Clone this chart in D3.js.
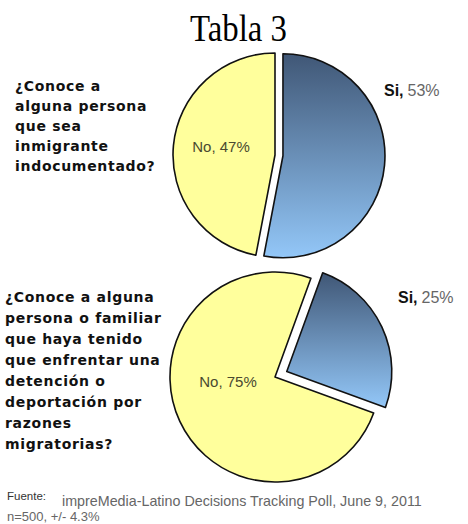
<!DOCTYPE html>
<html>
<head>
<meta charset="utf-8">
<script src="https://cdn.jsdelivr.net/npm/d3@7"></script>
<style>
  body { margin: 0; background: #fff; }
  svg { display: block; }
</style>
</head>
<body>
<script>
// chart values
var answers = ['Si', 'No']
var share1 = [53, 47]
var share2 = [25, 75]
var question1 = ['¿Conoce a', 'alguna persona', 'que sea', 'inmigrante', 'indocumentado?']
var question2 = ['¿Conoce a alguna', 'persona o familiar', 'que haya tenido', 'que enfrentar una',
                 'detención o', 'deportación por', 'razones', 'migratorias?']
var source = 'impreMedia-Latino Decisions Tracking Poll, June 9, 2011'
var sample = 'n=500, +/- 4.3%'

var width = 468, height = 524
var deg = Math.PI / 180

var svg = d3.select('body').append('svg')
  .attr('width', width)
  .attr('height', height)

var grad = svg.append('defs').append('linearGradient')
  .attr('id', 'blue')
  .attr('x1', 0).attr('y1', 0).attr('x2', 0).attr('y2', 1)
grad.append('stop').attr('offset', '0%').attr('stop-color', '#405776')
grad.append('stop').attr('offset', '100%').attr('stop-color', '#93c7f8')

svg.append('text')
  .attr('x', 238.5).attr('y', 41)
  .attr('text-anchor', 'middle')
  .attr('font-family', '"Liberation Serif", serif')
  .attr('font-size', 38)
  .attr('textLength', 97)
  .attr('lengthAdjust', 'spacingAndGlyphs')
  .text('Tabla 3')

function drawPie(values, opts){
  var pie = d3.pie().sort(null).value(function(d){ return d })
    .startAngle(opts.start * deg).endAngle(opts.start * deg + 2 * Math.PI)
  var arcs = pie(values)
  var arc = d3.arc().innerRadius(0).outerRadius(opts.r)
  var g = svg.append('g').attr('transform', 'translate(' + opts.cx + ',' + opts.cy + ')')

  g.selectAll('path')
    .data(arcs)
    .enter()
    .append('path')
    .attr('d', arc)
    .attr('transform', function(d, i){
      if (i != 0) return null
      var a = (d.startAngle + d.endAngle) / 2
      return 'translate(' + (Math.sin(a) * opts.explode) + ',' + (-Math.cos(a) * opts.explode) + ')'
    })
    .attr('fill', function(d, i){ return i == 0 ? 'url(#blue)' : '#ffff9c' })
    .attr('stroke', '#111')
    .attr('stroke-width', 1.6)
    .attr('stroke-linejoin', 'round')

  // No label inside the yellow slice
  g.append('text')
    .attr('x', opts.noPos[0]).attr('y', opts.noPos[1])
    .attr('text-anchor', 'middle')
    .attr('font-family', '"Liberation Sans", Arial, sans-serif')
    .attr('font-size', 15)
    .attr('fill', '#4a4a30')
    .text(answers[1] + ', ' + values[1] + '%')

  // Si label outside
  var si = g.append('text')
    .attr('x', opts.siPos[0]).attr('y', opts.siPos[1])
    .attr('font-family', '"Liberation Sans", Arial, sans-serif')
    .attr('font-size', 16)
  si.append('tspan').attr('font-weight', 'bold').attr('fill', '#111').text(answers[0] + ',')
  si.append('tspan').attr('fill', '#666').attr('dx', 4).text(values[0] + '%')
}

drawPie(share1, {cx: 275, cy: 155, r: 102, start: 0, explode: 8, noPos: [-54, -3], siPos: [109, -59]})
drawPie(share2, {cx: 275, cy: 377, r: 105, start: 20, explode: 13, noPos: [-47, 10], siPos: [123, -74]})

function question(lines, x, y0, step){
  svg.append('g').selectAll('text')
    .data(lines)
    .enter()
    .append('text')
    .attr('x', x)
    .attr('y', function(d, i){ return y0 + i * step })
    .attr('font-family', '"DejaVu Sans", Verdana, sans-serif')
    .attr('font-weight', 'bold')
    .attr('font-size', 14)
    .attr('letter-spacing', 0.7)
    .attr('fill', '#111')
    .text(function(d){ return d })
}

question(question1, 15, 91, 20)
question(question2, 5, 302, 21)

svg.append('text')
  .attr('x', 7).attr('y', 500)
  .attr('font-family', '"Liberation Sans", Arial, sans-serif')
  .attr('font-size', 11.5)
  .attr('fill', '#333')
  .text('Fuente:')
svg.append('text')
  .attr('x', 62).attr('y', 506)
  .attr('font-family', '"Liberation Sans", Arial, sans-serif')
  .attr('font-size', 14.3)
  .attr('fill', '#666')
  .text(source)
svg.append('text')
  .attr('x', 7).attr('y', 521)
  .attr('font-family', '"Liberation Sans", Arial, sans-serif')
  .attr('font-size', 13)
  .attr('fill', '#666')
  .text(sample)
</script>
</body>
</html>
